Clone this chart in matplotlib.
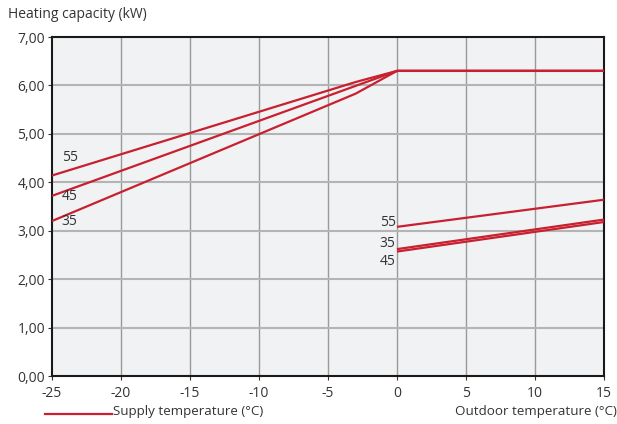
import matplotlib
matplotlib.use("Agg")
import matplotlib.pyplot as plt

plt.rcParams['font.family'] = ['Open Sans', 'DejaVu Sans']

# Heating capacity curves (outdoor temperature in °C, capacity in kW)
supply_temps = ["55", "45", "35"]
upper_x = {"55": [-25, -3, 0, 15], "45": [-25, 0, 15], "35": [-25, -3, 0, 15]}
upper_y = {"55": [4.14, 6.07, 6.30, 6.30], "45": [3.72, 6.30, 6.30], "35": [3.20, 5.83, 6.30, 6.30]}
lower_x = {"55": [0, 15], "45": [0, 15], "35": [0, 15]}
lower_y = {"55": [3.08, 3.64], "45": [2.57, 3.18], "35": [2.62, 3.23]}

x_ticks = [-25, -20, -15, -10, -5, 0, 5, 10, 15]
y_ticks = [0, 1, 2, 3, 4, 5, 6, 7]

red = "#c8202f"
txt = "#333333"

fig = plt.figure(figsize=(6.17, 4.24), dpi=100)
ax = fig.add_axes([52/617, 1 - 376/424, (604-52)/617, (376-37)/424])
ax.set_facecolor("#f1f2f4")

ax.set_xlim(-25, 15)
ax.set_ylim(0, 7)
ax.set_xticks(x_ticks)
ax.set_yticks(y_ticks)
ax.set_xticklabels([str(v) for v in x_ticks])
ax.set_yticklabels([f"{v:.2f}".replace(".", ",") for v in y_ticks])

for v in x_ticks[1:-1]:
    ax.axvline(v, color="#9a9a9a", lw=1.0, zorder=1)
for v in y_ticks[1:-1]:
    ax.axhline(v, color="#b4b4b4", lw=1.5, zorder=1)

for s in supply_temps:
    ax.plot(upper_x[s], upper_y[s], color=red, lw=1.6, zorder=3, solid_capstyle="butt")
    ax.plot(lower_x[s], lower_y[s], color=red, lw=1.6, zorder=3, solid_capstyle="butt")

for sp in ax.spines.values():
    sp.set_color("#1a1a1a")
    sp.set_linewidth(1.5)

ax.tick_params(axis="both", colors=txt, labelsize=10, length=3, width=0.8, pad=2)
ax.tick_params(axis="x", pad=4)

# Curve labels
ax.text(-24.3, 4.52, "55", color=txt, fontsize=10, va="center", ha="left")
ax.text(-24.3, 3.70, "45", color=txt, fontsize=10, va="center", ha="left")
ax.text(-24.3, 3.20, "35", color=txt, fontsize=10, va="center", ha="left")
ax.text(-0.1, 3.17, "55", color=txt, fontsize=10, va="center", ha="right")
ax.text(-0.1, 2.73, "35", color=txt, fontsize=10, va="center", ha="right")
ax.text(-0.1, 2.37, "45", color=txt, fontsize=10, va="center", ha="right")

fig.text(8/617, 1 - 15/424, "Heating capacity (kW)", color=txt, fontsize=10, va="center", ha="left")

# Legend line and axis caption
fig.add_artist(plt.Line2D([45/617, 112/617], [1 - 414/424, 1 - 414/424], color=red, lw=1.6))
fig.text(113/617, 1 - 411/424, "Supply temperature (°C)", color=txt, fontsize=9.6, va="center", ha="left")
fig.text(1.0, 1 - 411/424, "Outdoor temperature (°C)", color=txt, fontsize=9.6, va="center", ha="right")

fig.savefig("out.png", dpi=100)
